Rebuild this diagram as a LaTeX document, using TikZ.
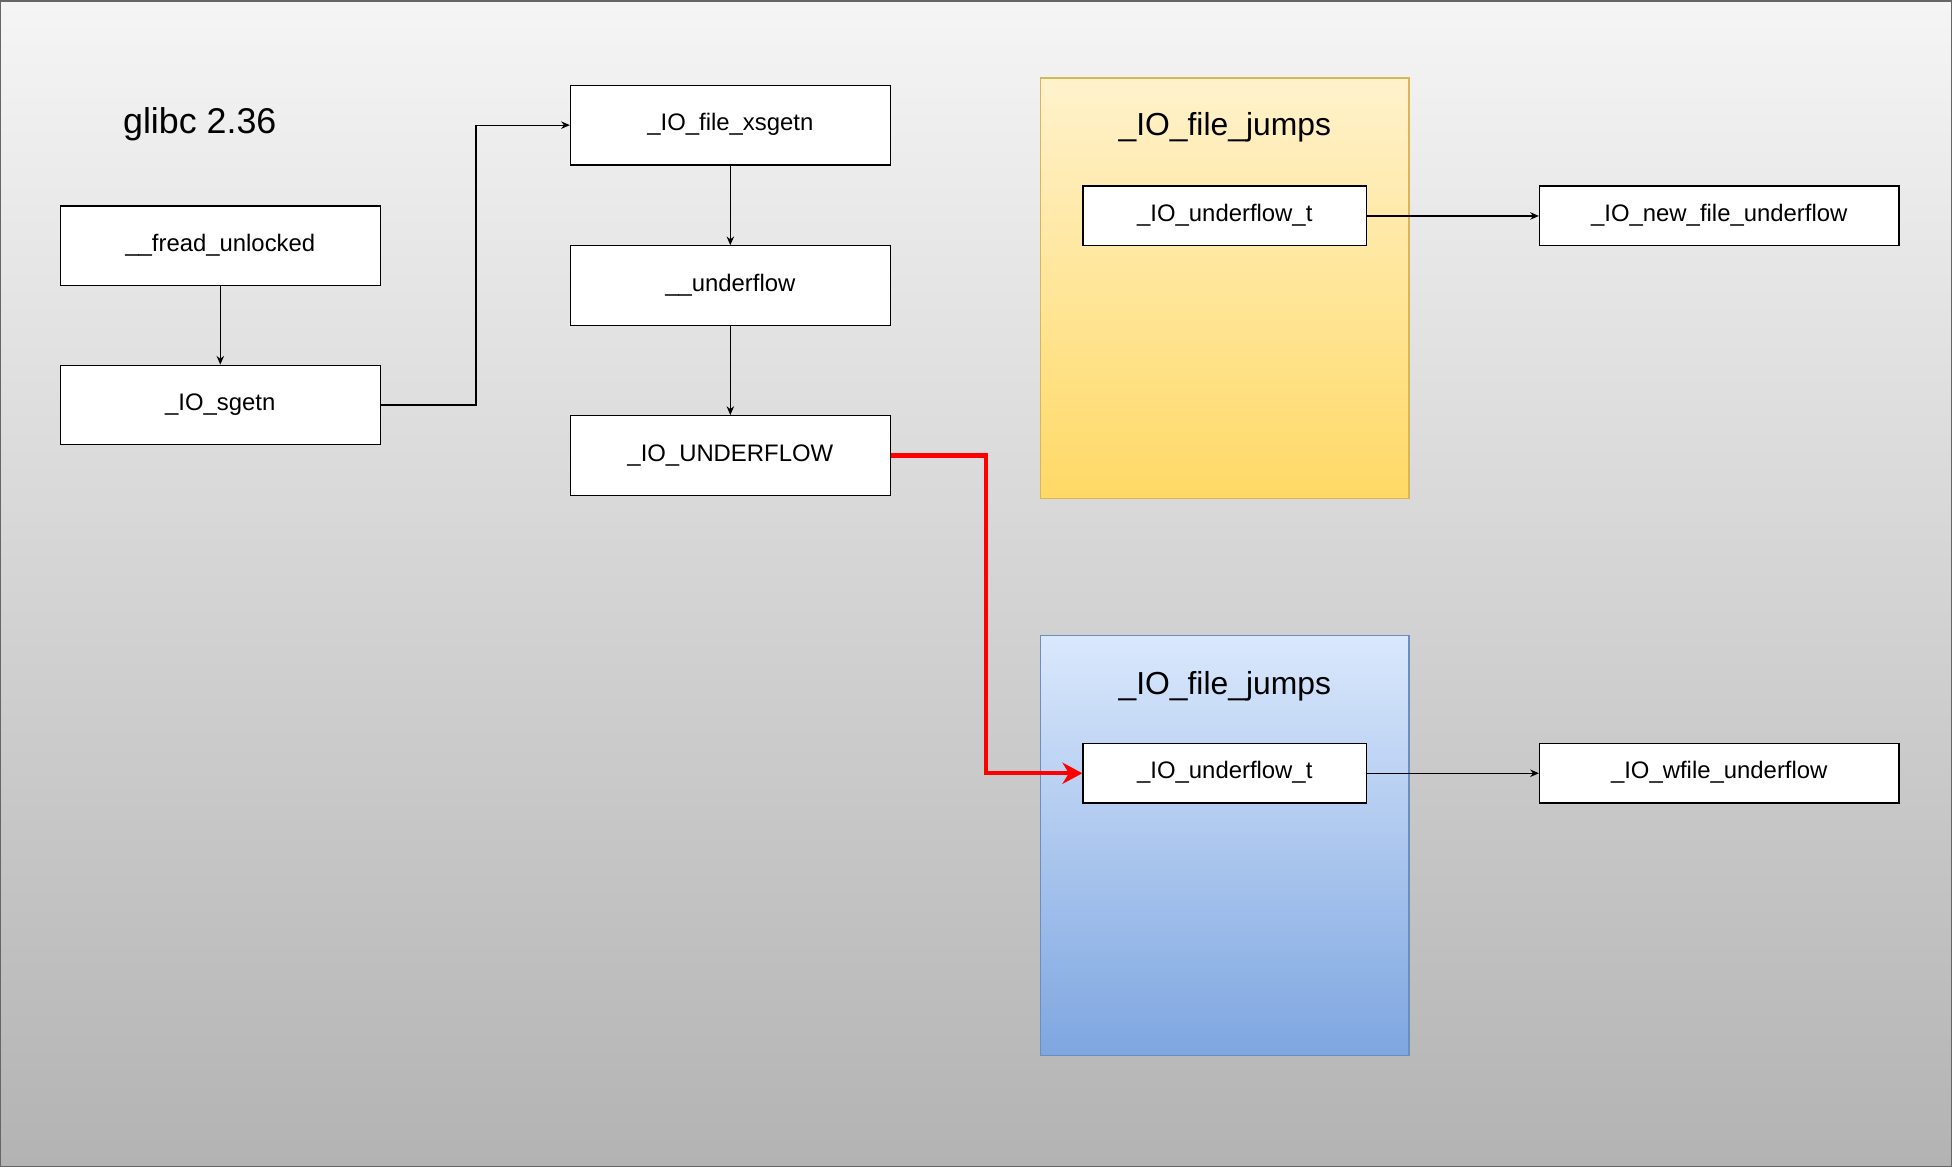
\documentclass[tikz,border=0pt]{standalone}
\usepackage{fontspec}
\setmainfont{Liberation Sans}
\usetikzlibrary{arrows.meta,positioning}

\definecolor{bgtop}{HTML}{F5F5F5}
\definecolor{bgbot}{HTML}{B3B3B3}
\definecolor{ytop}{HTML}{FFF2CC}
\definecolor{ybot}{HTML}{FFD966}
\definecolor{yline}{HTML}{D6B656}
\definecolor{btop}{HTML}{DAE8FC}
\definecolor{bbot}{HTML}{7EA6E0}
\definecolor{bline}{HTML}{6C8EBF}

\tikzset{
    func/.style={draw=black, fill=white, line width=0.5pt, inner sep=0pt,
        minimum width=128.5pt, minimum height=32pt,
        text height=7pt, text depth=2.4pt,
        font=\fontsize{9.6}{11}\selectfont},
    slot/.style={func, minimum width=114pt, minimum height=24pt},
    target/.style={func, minimum width=144.5pt, minimum height=24pt},
    jumps/.style={inner sep=0pt, minimum width=148pt, minimum height=169pt,
        line width=0.5pt},
    caption/.style={font=\fontsize{12.8}{15}\selectfont},
    call/.style={line width=0.5pt, -{Stealth[length=3.5pt,width=3pt]}},
    hot/.style={red, line width=1.8pt, -{Stealth[length=8pt,width=8.5pt]}}
}

\begin{document}
\begin{tikzpicture}[x=0.5pt, y=-0.5pt]
    % Background with gradient
    \shade[top color=bgtop, bottom color=bgbot] (0,0) rectangle (1568,937);
    \draw[black!60, line width=0.6pt] (0,0) rectangle (1568,937);
    \useasboundingbox (0,0) rectangle (1568,937);

    \node[font=\fontsize{14.4}{17}\selectfont] (version) at (160,99) {glibc 2.36};

    % Call chain
    \node[func] (fread) at (176.5,197) {\_\_fread\_unlocked};
    \node[func] (sgetn) at (176.5,325) {\_IO\_sgetn};
    \node[func] (xsgetn) at (586.5,100) {\_IO\_file\_xsgetn};
    \node[func] (uflow) at (586.5,229) {\_\_underflow};
    \node[func] (UFLOW) at (586.5,365.5) {\_IO\_UNDERFLOW};

    % The two vtables
    \node[jumps, draw=yline, top color=ytop, bottom color=ybot] (fjumps) at (984,231) {};
    \node[caption] (ftitle) at (984,102) {\_IO\_file\_jumps};
    \node[slot] (fslot) at (984,173) {\_IO\_underflow\_t};
    \node[target] (newuf) at (1381.5,173) {\_IO\_new\_file\_underflow};

    \node[jumps, draw=bline, top color=btop, bottom color=bbot] (wjumps) at (984,679) {};
    \node[caption] (wtitle) at (984,551) {\_IO\_file\_jumps};
    \node[slot] (wslot) at (984,621) {\_IO\_underflow\_t};
    \node[target] (wfuf) at (1381.5,621) {\_IO\_wfile\_underflow};

    % Connectors
    \coordinate (bendA) at (382,0);
    \coordinate (bendB) at (792,0);
    \draw[call] (fread) -- (sgetn);
    \draw[call] (sgetn.east) -- (sgetn.east -| bendA) |- (xsgetn.west);
    \draw[call] (xsgetn) -- (uflow);
    \draw[call] (uflow) -- (UFLOW);
    \draw[call] (fslot) -- (newuf);
    \draw[call] (wslot) -- (wfuf);
    % Hijacked vtable pointer
    \draw[hot] (UFLOW.east) -- (UFLOW.east -| bendB) |- (wslot.west);
\end{tikzpicture}
\end{document}
